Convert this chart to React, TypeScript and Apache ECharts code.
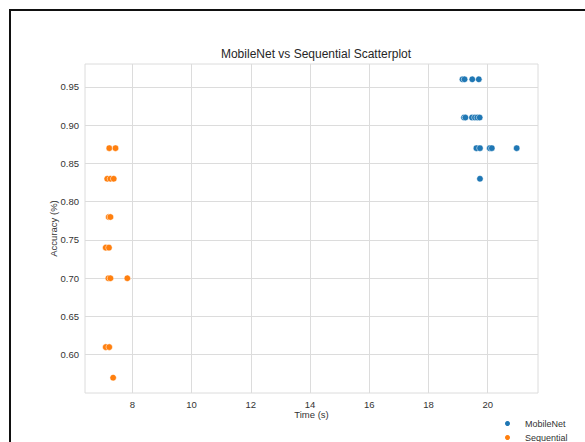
import React, { useEffect, useRef } from "react";
import * as echarts from "echarts";

const seriesNames = ["MobileNet", "Sequential"];
const mobileNetTime = [19.15, 19.22, 19.48, 19.7, 19.2, 19.25, 19.47, 19.57, 19.65, 19.73, 19.62, 19.74, 20.07, 20.14, 20.98, 19.74];
const mobileNetAcc = [0.96, 0.96, 0.96, 0.96, 0.91, 0.91, 0.91, 0.91, 0.91, 0.91, 0.87, 0.87, 0.87, 0.87, 0.87, 0.83];
const sequentialTime = [7.22, 7.43, 7.15, 7.26, 7.37, 7.2, 7.26, 7.1, 7.21, 7.19, 7.26, 7.83, 7.1, 7.22, 7.35];
const sequentialAcc = [0.87, 0.87, 0.83, 0.83, 0.83, 0.78, 0.78, 0.74, 0.74, 0.7, 0.7, 0.7, 0.61, 0.61, 0.57];
const xTicks = [8, 10, 12, 14, 16, 18, 20];
const yTicks = [0.6, 0.65, 0.7, 0.75, 0.8, 0.85, 0.9, 0.95];
const colors = ["#1f77b4", "#ff7f0e"];

const FONT = "Liberation Sans, Arial, sans-serif";
const GRID_COLOR = "#dcdcdc";
const TEXT_COLOR = "#333333";

export default function App() {
  const ref = useRef<HTMLDivElement>(null);
  useEffect(() => {
    if (!ref.current) return;
    const chart = echarts.init(ref.current, undefined, { renderer: "svg" });
    const pts = (xs: number[], ys: number[]) => xs.map((x, i) => [x, ys[i]]);
    const isTickX = (v: number) => xTicks.some((t) => Math.abs(t - v) < 1e-6);
    const isTickY = (v: number) => yTicks.some((t) => Math.abs(t - v) < 1e-6);
    chart.setOption({
      animation: false,
      backgroundColor: "#ffffff",
      title: {
        text: "MobileNet vs Sequential Scatterplot",
        left: 311,
        top: 43,
        textAlign: "center",
        textStyle: { fontFamily: FONT, fontSize: 12, fontWeight: "normal", color: "#262626" },
      },
      legend: {
        orient: "vertical",
        left: 503,
        top: 418,
        height: 40,
        padding: 0,
        itemWidth: 25,
        itemHeight: 7,
        itemGap: 3,
        icon: "circle",
        data: seriesNames,
        textStyle: { fontFamily: FONT, fontSize: 9, color: TEXT_COLOR, lineHeight: 11 },
      },
      grid: { left: 85, top: 64, width: 453, height: 329, containLabel: false },
      xAxis: {
        type: "value",
        min: 6.4,
        max: 21.7,
        interval: 0.4,
        name: "Time (s)",
        nameLocation: "middle",
        nameGap: 16,
        nameMoveOverlap: false,
        nameTextStyle: { fontFamily: FONT, fontSize: 9.5, color: TEXT_COLOR },
        axisLine: { show: false },
        axisTick: { show: false },
        splitLine: { show: false },
        axisLabel: {
          showMinLabel: false,
          showMaxLabel: false,
          margin: 6,
          fontFamily: FONT,
          fontSize: 9.5,
          color: TEXT_COLOR,
          formatter: (v: number) => (isTickX(v) ? String(Math.round(v)) : ""),
        },
      },
      yAxis: {
        type: "value",
        min: 0.55,
        max: 0.98,
        interval: 0.05,
        name: "Accuracy (%)",
        nameLocation: "middle",
        nameGap: 27,
        nameMoveOverlap: false,
        nameTextStyle: { fontFamily: FONT, fontSize: 9.5, color: TEXT_COLOR },
        axisLine: { show: false },
        axisTick: { show: false },
        splitLine: { show: false },
        axisLabel: {
          showMinLabel: false,
          showMaxLabel: false,
          margin: 6,
          fontFamily: FONT,
          fontSize: 9.5,
          color: TEXT_COLOR,
          formatter: (v: number) => (isTickY(v) ? v.toFixed(2) : ""),
        },
      },
      graphic: [
        {
          type: "rect",
          shape: { x: 10, y: 10, width: 700, height: 600 },
          style: { fill: "none", stroke: "#111111", lineWidth: 2 },
          silent: true,
          z: 100,
        },
        {
          type: "rect",
          shape: { x: 85, y: 64, width: 453, height: 329 },
          style: { fill: "none", stroke: GRID_COLOR, lineWidth: 1 },
          silent: true,
          z: -1,
        },
      ],
      series: [
        {
          type: "scatter",
          name: "grid",
          data: [],
          z: 0,
          silent: true,
          markLine: {
            silent: true,
            symbol: "none",
            label: { show: false },
            lineStyle: { color: GRID_COLOR, width: 1, type: "solid" },
            data: [
              ...xTicks.map((t) => ({ xAxis: t })),
              ...yTicks.map((t) => ({ yAxis: t })),
            ],
          },
        },
        {
          type: "scatter",
          name: seriesNames[0],
          data: pts(mobileNetTime, mobileNetAcc),
          symbolSize: 6.5,
          z: 5,
          itemStyle: { color: colors[0], borderColor: "#ffffff", borderWidth: 0.5, opacity: 1 },
        },
        {
          type: "scatter",
          name: seriesNames[1],
          data: pts(sequentialTime, sequentialAcc),
          symbolSize: 6.5,
          z: 5,
          itemStyle: { color: colors[1], borderColor: "#ffffff", borderWidth: 0.5, opacity: 1 },
        },
      ],
    });
    return () => chart.dispose();
  }, []);
  return (
    <div
      ref={ref}
      style={{ position: "absolute", left: 0, top: 0, width: 585, height: 442 }}
    />
  );
}
